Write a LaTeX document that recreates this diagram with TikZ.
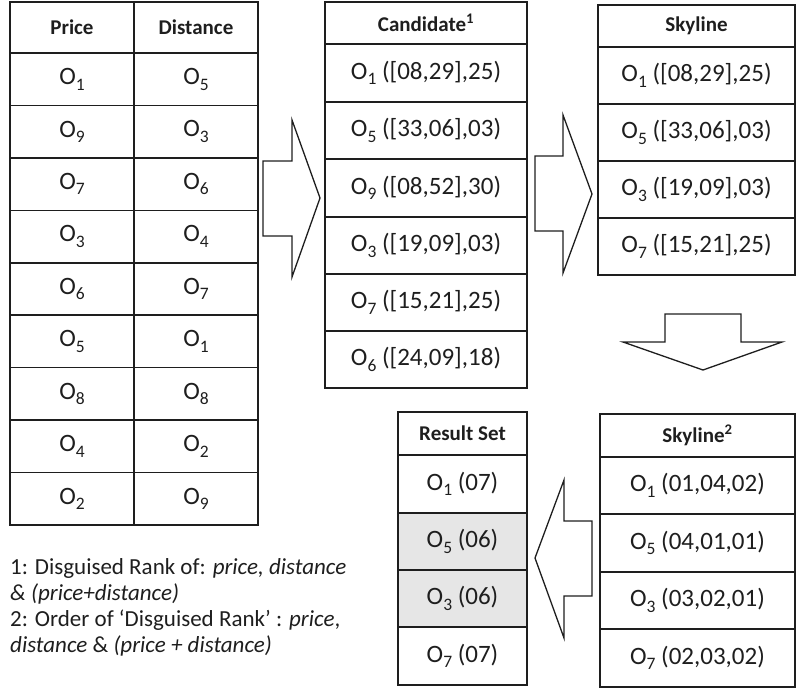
\documentclass[tikz,border=0pt]{standalone}
\usepackage{fontspec}
\setmainfont{Carlito}
\definecolor{rule}{HTML}{1E1E1E}
\definecolor{hilite}{HTML}{E6E6E6}
% table cell from its corners (x1,y1)-(x2,y2); y grows downwards
\newcommand\tcell[7]{%
  \pgfmathsetmacro\tcW{#5-#3}\pgfmathsetmacro\tcH{#6-#4}%
  \pgfmathsetmacro\tcX{(#3+#5)/2}\pgfmathsetmacro\tcY{(#4+#6)/2}%
  \node[#1, minimum width=\tcW pt, minimum height=\tcH pt] (#2) at (\tcX,\tcY) {#7};}
% object label with a lowered index
\newcommand\Ob[1]{O\raisebox{-0.22em}{\fontsize{0.7em}{0.7em}\selectfont #1}}
\begin{document}
\begin{tikzpicture}[x=1pt,y=-1pt,
  cell/.style={draw=rule, line width=1.6pt, inner sep=0pt, text=rule,
    font=\fontsize{25}{29}\selectfont},
  head/.style={cell, font=\fontsize{21}{25}\selectfont\bfseries},
  shade/.style={cell, fill=hilite},
  blockarrow/.style={draw=rule, line width=1.3pt, fill=white, line join=miter},
  note/.style={anchor=base west, inner sep=0pt, text=rule,
    font=\fontsize{23}{27}\selectfont}]
\useasboundingbox (0,0) rectangle (798,688);

% ranked lists
\tcell{head}{hprice}{10}{2}{134}{53}{Price}
\tcell{head}{hdist}{134}{2}{258}{53}{Distance}
\foreach \p/\d [count=\i] in {1/5,9/3,7/6,3/4,6/7,5/1,8/8,4/2,2/9} {
  \pgfmathsetmacro\ya{53+(\i-1)*52.44}\pgfmathsetmacro\yb{\ya+52.44}
  \tcell{cell}{pr\i}{10}{\ya}{134}{\yb}{\Ob{\p}}
  \tcell{cell}{di\i}{134}{\ya}{258}{\yb}{\Ob{\d}}
}

% candidates
\tcell{head}{hcand}{325}{2}{527}{44}{Candidate\textsuperscript{1}}
\tcell{cell}{c1}{325}{44}{527}{102}{\Ob{1} ([08,29],25)}
\tcell{cell}{c2}{325}{102}{527}{159}{\Ob{5} ([33,06],03)}
\tcell{cell}{c3}{325}{159}{527}{217}{\Ob{9} ([08,52],30)}
\tcell{cell}{c4}{325}{217}{527}{274}{\Ob{3} ([19,09],03)}
\tcell{cell}{c5}{325}{274}{527}{331}{\Ob{7} ([15,21],25)}
\tcell{cell}{c6}{325}{331}{527}{388}{\Ob{6} ([24,09],18)}

% skyline
\tcell{head}{hsky}{598}{5}{795}{47}{Skyline}
\tcell{cell}{s1}{598}{47}{795}{104}{\Ob{1} ([08,29],25)}
\tcell{cell}{s2}{598}{104}{795}{161}{\Ob{5} ([33,06],03)}
\tcell{cell}{s3}{598}{161}{795}{218}{\Ob{3} ([19,09],03)}
\tcell{cell}{s4}{598}{218}{795}{275}{\Ob{7} ([15,21],25)}

% skyline ordered by disguised rank
\tcell{head}{hsk2}{600}{414}{795}{457}{Skyline\textsuperscript{2}}
\tcell{cell}{k1}{600}{457}{795}{514}{\Ob{1} (01,04,02)}
\tcell{cell}{k2}{600}{514}{795}{572}{\Ob{5} (04,01,01)}
\tcell{cell}{k3}{600}{572}{795}{629}{\Ob{3} (03,02,01)}
\tcell{cell}{k4}{600}{629}{795}{687}{\Ob{7} (02,03,02)}

% result set
\tcell{head}{hres}{398}{412}{527}{455}{Result Set}
\tcell{cell}{r1}{398}{455}{527}{513}{\Ob{1} (07)}
\tcell{shade}{r2}{398}{513}{527}{570}{\Ob{5} (06)}
\tcell{shade}{r3}{398}{570}{527}{627}{\Ob{3} (06)}
\tcell{cell}{r4}{398}{627}{527}{685}{\Ob{7} (07)}

% block arrows between the stages
\draw[blockarrow] (263,161) -- (292,161) -- (292,120) -- (320,198) -- (292,277)
  -- (292,236) -- (263,236) -- cycle;
\draw[blockarrow] (535,156) -- (563,156) -- (563,115) -- (592,194) -- (563,273)
  -- (563,231) -- (535,231) -- cycle;
\draw[blockarrow] (665,314) -- (741,314) -- (741,342) -- (782,342) -- (703,370)
  -- (623,342) -- (665,342) -- cycle;
\draw[blockarrow] (592,521) -- (564,521) -- (564,480) -- (535,558) -- (564,638)
  -- (564,596) -- (592,596) -- cycle;

% footnotes
\node[note] (n1) at (10,574) {1: Disguised Rank of: \textit{price, distance}};
\node[note] (n2) at (10,600) {\textit{\& (price+distance)}};
\node[note] (n3) at (10,626) {2: Order of ‘Disguised Rank’ : \textit{price},};
\node[note] (n4) at (10,652) {\textit{distance} \& \textit{(price + distance)}};
\end{tikzpicture}
\end{document}
